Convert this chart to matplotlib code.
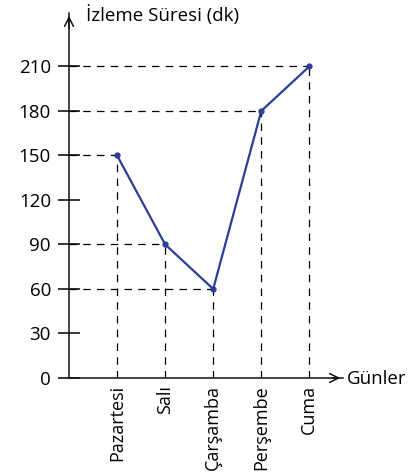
import matplotlib
matplotlib.use('Agg')
import matplotlib.pyplot as plt

# veriler
gunler = ['Pazartesi', 'Salı', 'Çarşamba', 'Perşembe', 'Cuma']
sure = [150, 90, 60, 180, 210]
y_ticks = [0, 30, 60, 90, 120, 150, 180, 210]

plt.rcParams['font.family'] = ['Open Sans', 'DejaVu Sans']

fig = plt.figure(figsize=(4.16, 4.75), dpi=100)
ax = fig.add_axes([69 / 416, (475 - 378) / 475, (343 - 69) / 416, 365 / 475])

xs = list(range(1, len(gunler) + 1))

# kesikli yardımcı çizgiler
for x, y in zip(xs, sure):
    ax.plot([0, x], [y, y], color='black', lw=0.9, ls=(0, (6, 5)), zorder=1)
    ax.plot([x, x], [0, y], color='black', lw=0.9, ls=(0, (6, 5)), zorder=1)

ax.plot(xs, sure, color='#2b3f96', lw=1.6, marker='o', ms=3.5, zorder=3)

ax.set_xlim(0, 5.7)
ax.set_ylim(0, 246)

for s in ['top', 'right']:
    ax.spines[s].set_visible(False)
for s in ['left', 'bottom']:
    ax.spines[s].set_linewidth(1.1)
    ax.spines[s].set_color('#111111')

ax.set_yticks(y_ticks)
ax.set_yticklabels([str(v) for v in y_ticks], fontsize=13.5)
ax.tick_params(axis='y', direction='inout', length=16, width=1.1, pad=5)

ax.set_xticks(xs)
ax.set_xticklabels(gunler, rotation=90, fontsize=13)
ax.tick_params(axis='x', length=0, pad=5)

# eksen okları
ax.annotate('', xy=(0, 1.0), xytext=(0, 0.95), xycoords='axes fraction',
            arrowprops=dict(arrowstyle='->', lw=1.1, color='#111111',
                            mutation_scale=16))
ax.annotate('', xy=(1.0, 0), xytext=(0.95, 0), xycoords='axes fraction',
            arrowprops=dict(arrowstyle='->', lw=1.1, color='#111111',
                            mutation_scale=16))

fig.text(86 / 416, 1 - 15 / 475, 'İzleme Süresi (dk)', fontsize=13.5,
         ha='left', va='center')
fig.text(347 / 416, 1 - 379 / 475, 'Günler', fontsize=13.5,
         ha='left', va='center')

plt.savefig('out.png', dpi=100)
